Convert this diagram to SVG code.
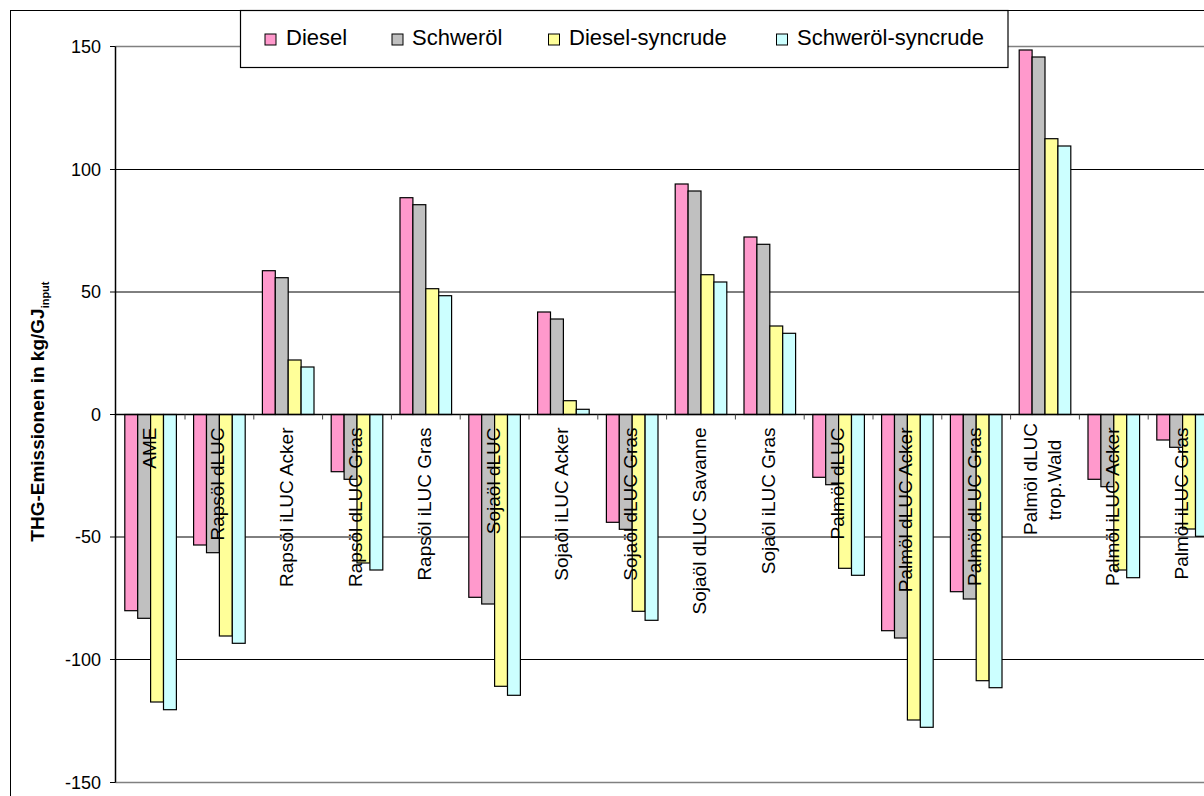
<svg xmlns="http://www.w3.org/2000/svg" width="1204" height="796" viewBox="0 0 1204 796">
<style>
text{font-family:"Liberation Sans",Arial,sans-serif;fill:#000}
.tick{font-size:18px;text-anchor:end}
.cat{font-size:19px;text-anchor:end}
.leg{font-size:22px}
.grid{stroke:#000;stroke-width:1}
.pb{stroke:#808080;stroke-width:1.5}
.b{stroke:#000;stroke-width:1.2}
.d{fill:#FF99CC}.s{fill:#C0C0C0}.y{fill:#FFFF99}.c{fill:#CCFFFF}
</style>
<rect x="0" y="0" width="1204" height="796" fill="#fff"/>
<rect x="10.5" y="10.5" width="1220" height="820" fill="#fff" stroke="#000" stroke-width="1"/>
<g id="plotarea">
<line class="pb" x1="115.5" y1="46.5" x2="1204" y2="46.5"/>
<line class="pb" x1="115.5" y1="782.5" x2="1204" y2="782.5"/>
<line class="grid" x1="115.5" y1="169.5" x2="1204" y2="169.5"/>
<line class="grid" x1="115.5" y1="292" x2="1204" y2="292"/>
<line class="grid" x1="115.5" y1="537" x2="1204" y2="537"/>
<line class="grid" x1="115.5" y1="659.5" x2="1204" y2="659.5"/>
</g>
<g id="bars" class="b">
<rect class="d" x="124.8" y="414.5" width="12.9" height="196.2"/><rect class="s" x="137.7" y="414.5" width="12.9" height="203.8"/><rect class="y" x="150.6" y="414.5" width="12.9" height="287.5"/><rect class="c" x="163.5" y="414.5" width="12.9" height="295.2"/>
<rect class="d" x="193.6" y="414.5" width="12.9" height="130.5"/><rect class="s" x="206.5" y="414.5" width="12.9" height="138.2"/><rect class="y" x="219.4" y="414.5" width="12.9" height="221.5"/><rect class="c" x="232.3" y="414.5" width="12.9" height="228.8"/>
<rect class="d" x="262.4" y="270.7" width="12.9" height="143.8"/><rect class="s" x="275.3" y="277.7" width="12.9" height="136.8"/><rect class="y" x="288.2" y="360" width="12.9" height="54.5"/><rect class="c" x="301.1" y="367" width="12.9" height="47.5"/>
<rect class="d" x="331.2" y="414.5" width="12.9" height="57.2"/><rect class="s" x="344.1" y="414.5" width="12.9" height="64.8"/><rect class="y" x="357" y="414.5" width="12.9" height="148.5"/><rect class="c" x="369.9" y="414.5" width="12.9" height="155.5"/>
<rect class="d" x="400" y="197.7" width="12.9" height="216.8"/><rect class="s" x="412.9" y="204.7" width="12.9" height="209.8"/><rect class="y" x="425.8" y="288.7" width="12.9" height="125.8"/><rect class="c" x="438.7" y="295.7" width="12.9" height="118.8"/>
<rect class="d" x="468.8" y="414.5" width="12.9" height="182.8"/><rect class="s" x="481.7" y="414.5" width="12.9" height="189.5"/><rect class="y" x="494.6" y="414.5" width="12.9" height="271.8"/><rect class="c" x="507.5" y="414.5" width="12.9" height="280.8"/>
<rect class="d" x="537.6" y="312" width="12.9" height="102.5"/><rect class="s" x="550.5" y="319" width="12.9" height="95.5"/><rect class="y" x="563.4" y="400.7" width="12.9" height="13.8"/><rect class="c" x="576.3" y="409.3" width="12.9" height="5.2"/>
<rect class="d" x="606.4" y="414.5" width="12.9" height="107.8"/><rect class="s" x="619.3" y="414.5" width="12.9" height="114.8"/><rect class="y" x="632.2" y="414.5" width="12.9" height="196.8"/><rect class="c" x="645.1" y="414.5" width="12.9" height="205.8"/>
<rect class="d" x="675.2" y="184" width="12.9" height="230.5"/><rect class="s" x="688.1" y="191" width="12.9" height="223.5"/><rect class="y" x="701" y="274.7" width="12.9" height="139.8"/><rect class="c" x="713.9" y="282" width="12.9" height="132.5"/>
<rect class="d" x="744" y="237" width="12.9" height="177.5"/><rect class="s" x="756.9" y="244.3" width="12.9" height="170.2"/><rect class="y" x="769.8" y="326" width="12.9" height="88.5"/><rect class="c" x="782.7" y="333.3" width="12.9" height="81.2"/>
<rect class="d" x="812.8" y="414.5" width="12.9" height="62.8"/><rect class="s" x="825.7" y="414.5" width="12.9" height="70.2"/><rect class="y" x="838.6" y="414.5" width="12.9" height="153.8"/><rect class="c" x="851.5" y="414.5" width="12.9" height="160.8"/>
<rect class="d" x="881.6" y="414.5" width="12.9" height="216.2"/><rect class="s" x="894.5" y="414.5" width="12.9" height="223.5"/><rect class="y" x="907.4" y="414.5" width="12.9" height="305.5"/><rect class="c" x="920.3" y="414.5" width="12.9" height="312.8"/>
<rect class="d" x="950.4" y="414.5" width="12.9" height="177.2"/><rect class="s" x="963.3" y="414.5" width="12.9" height="184.5"/><rect class="y" x="976.2" y="414.5" width="12.9" height="266.2"/><rect class="c" x="989.1" y="414.5" width="12.9" height="273.2"/>
<rect class="d" x="1019.2" y="50" width="12.9" height="364.5"/><rect class="s" x="1032.1" y="57" width="12.9" height="357.5"/><rect class="y" x="1045" y="138.7" width="12.9" height="275.8"/><rect class="c" x="1057.9" y="146" width="12.9" height="268.5"/>
<rect class="d" x="1088" y="414.5" width="12.9" height="64.8"/><rect class="s" x="1100.9" y="414.5" width="12.9" height="72.2"/><rect class="y" x="1113.8" y="414.5" width="12.9" height="155.5"/><rect class="c" x="1126.7" y="414.5" width="12.9" height="163.2"/>
<rect class="d" x="1156.8" y="414.5" width="12.9" height="25.5"/><rect class="s" x="1169.7" y="414.5" width="12.9" height="32.8"/><rect class="y" x="1182.6" y="414.5" width="12.9" height="114.5"/><rect class="c" x="1195.5" y="414.5" width="12.9" height="121.8"/>
</g>
<g id="axes" stroke="#000" stroke-width="1">
<line x1="115.5" y1="46.5" x2="115.5" y2="782.5" stroke-width="1.5"/>
<line x1="115.5" y1="414.5" x2="1204" y2="414.5" stroke-width="1.3"/>
<path d="M110 46.5H115.5M110 169.5H115.5M110 292H115.5M110 414.5H115.5M110 537H115.5M110 659.5H115.5M110 782.5H115.5"/>
<path stroke="#444" d="M185 414.5V419.5M253.8 414.5V419.5M322.6 414.5V419.5M391.4 414.5V419.5M460.2 414.5V419.5M529 414.5V419.5M597.8 414.5V419.5M666.6 414.5V419.5M735.4 414.5V419.5M804.2 414.5V419.5M873 414.5V419.5M941.8 414.5V419.5M1010.6 414.5V419.5M1079.4 414.5V419.5M1148.2 414.5V419.5"/>
</g>
<g id="ylabels">
<text class="tick" x="101" y="52.9">150</text>
<text class="tick" x="101" y="175.9">100</text>
<text class="tick" x="101" y="298.4">50</text>
<text class="tick" x="101" y="420.9">0</text>
<text class="tick" x="101" y="543.4">-50</text>
<text class="tick" x="101" y="665.9">-100</text>
<text class="tick" x="101" y="788.9">-150</text>
</g>
<g id="axis-title">
<text transform="translate(44,541.7) rotate(-90)" style="font-size:19px;font-weight:bold">THG-Emissionen in kg/GJ<tspan style="font-size:11px" dy="5">input</tspan></text>
</g>
<g id="xlabels">
<text class="cat" transform="translate(155.6,427.5) rotate(-90)">AME</text>
<text class="cat" transform="translate(224.4,427.5) rotate(-90)">Rapsöl dLUC</text>
<text class="cat" transform="translate(293.2,427.5) rotate(-90)">Rapsöl iLUC Acker</text>
<text class="cat" transform="translate(362,427.5) rotate(-90)">Rapsöl dLUC Gras</text>
<text class="cat" transform="translate(430.8,427.5) rotate(-90)">Rapsöl iLUC Gras</text>
<text class="cat" transform="translate(499.6,427.5) rotate(-90)">Sojaöl dLUC</text>
<text class="cat" transform="translate(568.4,427.5) rotate(-90)">Sojaöl iLUC Acker</text>
<text class="cat" transform="translate(637.2,427.5) rotate(-90)">Sojaöl dLUC Gras</text>
<text class="cat" transform="translate(706,427.5) rotate(-90)">Sojaöl dLUC Savanne</text>
<text class="cat" transform="translate(774.8,427.5) rotate(-90)">Sojaöl iLUC Gras</text>
<text class="cat" transform="translate(843.6,427.5) rotate(-90)">Palmöl dLUC</text>
<text class="cat" transform="translate(912.4,427.5) rotate(-90)">Palmöl dLUC Acker</text>
<text class="cat" transform="translate(981.2,427.5) rotate(-90)">Palmöl dLUC Gras</text>
<text class="cat" style="text-anchor:middle" transform="translate(1036.5,479) rotate(-90)">Palmöl dLUC</text>
<text class="cat" style="text-anchor:middle" transform="translate(1060.5,480) rotate(-90)">trop.Wald</text>
<text class="cat" transform="translate(1118.8,427.5) rotate(-90)">Palmöl iLUC Acker</text>
<text class="cat" transform="translate(1187.6,427.5) rotate(-90)">Palmöl iLUC Gras</text>
</g>
<g id="legend">
<rect x="240.5" y="10.5" width="767.5" height="57" fill="#fff" stroke="#000" stroke-width="1.2"/>
<rect class="d" x="265" y="34" width="11" height="11" stroke="#000"/>
<text class="leg" x="286" y="44.7">Diesel</text>
<rect class="s" x="392" y="34" width="11" height="11" stroke="#000"/>
<text class="leg" x="412" y="44.7">Schweröl</text>
<rect class="y" x="548.5" y="34" width="11" height="11" stroke="#000"/>
<text class="leg" x="569" y="44.7">Diesel-syncrude</text>
<rect class="c" x="776.5" y="34" width="11" height="11" stroke="#000"/>
<text class="leg" x="797" y="44.7">Schweröl-syncrude</text>
</g>
</svg>
